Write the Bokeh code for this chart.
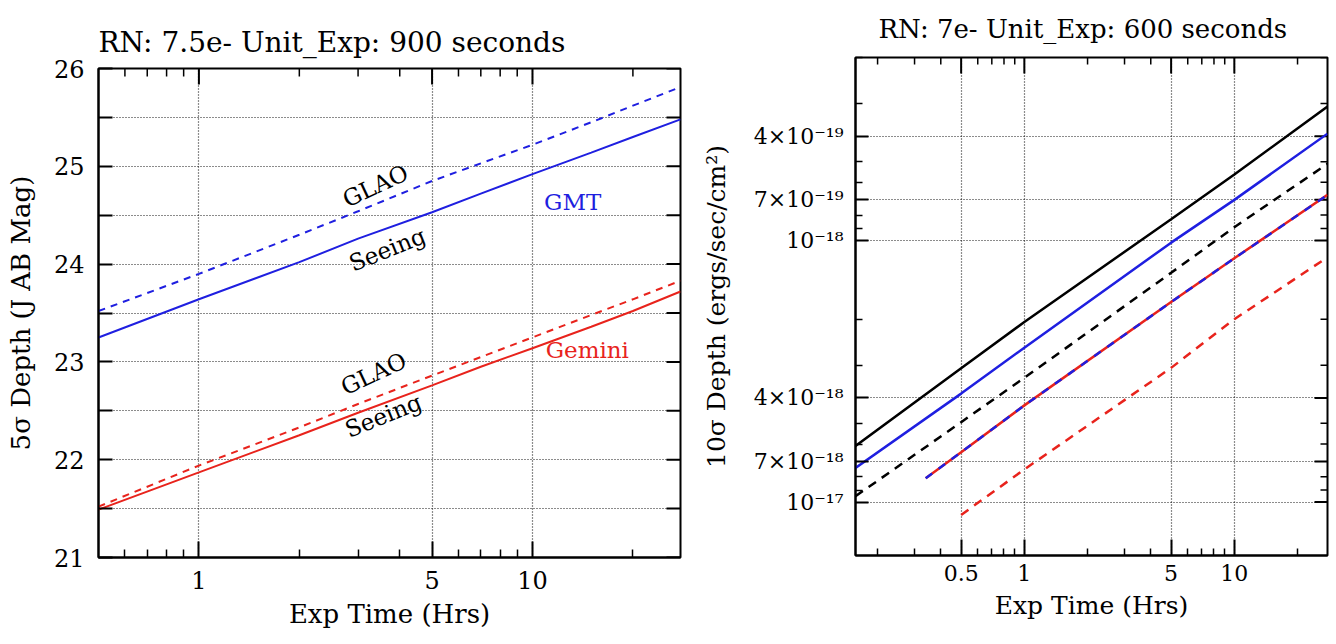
import math
from bokeh.plotting import figure
from bokeh.models import Range1d, FixedTicker
from bokeh.layouts import row
from bokeh.embed import file_html
from bokeh.resources import INLINE
from bokeh.core.properties import value

FONT = "DejaVu Serif"
BLUE = "#1f1fe0"
RED = "#e8231c"
BLACK = "#000000"

# ---------------- Left panel data (5 sigma depth, J AB mag) ----------------
left_time = [0.5, 1, 2, 3, 5, 7, 10, 15, 20, 27.78]
gmt_seeing = [23.25, 23.64, 24.02, 24.26, 24.53, 24.72, 24.92, 25.14, 25.30, 25.48]
gmt_glao = [23.52, 23.90, 24.30, 24.54, 24.85, 25.03, 25.22, 25.45, 25.62, 25.81]
gem_seeing = [21.49, 21.87, 22.25, 22.48, 22.76, 22.95, 23.14, 23.36, 23.52, 23.72]
gem_glao = [21.52, 21.94, 22.33, 22.57, 22.86, 23.05, 23.25, 23.48, 23.64, 23.83]

left_x_ticks = [1, 5, 10]
left_x_tick_labels = ["1", "5", "10"]
left_x_minor = [0.6, 0.7, 0.8, 0.9, 2, 3, 4, 6, 7, 8, 9, 20]
left_y_ticks = [21, 21.5, 22, 22.5, 23, 23.5, 24, 24.5, 25, 25.5, 26]
left_y_tick_labels = ["21", "", "22", "", "23", "", "24", "", "25", "", "26"]

left_labels = ["GLAO", "Seeing", "GMT", "GLAO", "Seeing", "Gemini"]

# ---------------- Right panel data (10 sigma depth, ergs/sec/cm^2) ----------------
time_full = [0.157, 0.5, 1, 5, 10, 27.78]
black_solid = [6.1e-18, 3.08e-18, 2.05e-18, 8.3e-19, 5.6e-19, 3.08e-19]
blue_solid = [7.4e-18, 3.85e-18, 2.57e-18, 1.02e-18, 7.0e-19, 3.91e-19]
black_dashed = [9.5e-18, 4.95e-18, 3.35e-18, 1.33e-18, 8.9e-19, 5.1e-19]
time_mid = [0.339, 0.5, 1, 5, 10, 27.78]
redblue_line = [8.1e-18, 6.45e-18, 4.27e-18, 1.72e-18, 1.17e-18, 6.7e-19]
time_late = [0.5, 1, 5, 10, 27.78]
red_dashed = [1.12e-17, 7.5e-18, 3.07e-18, 2.0e-18, 1.16e-18]

right_x_ticks = [0.5, 1, 5, 10]
right_x_tick_labels = ["0.5", "1", "5", "10"]
right_x_minor = [0.2, 0.3, 0.4, 0.6, 0.7, 0.8, 0.9, 2, 3, 4, 6, 7, 8, 9, 20]
right_y_ticks = [4e-19, 7e-19, 1e-18, 4e-18, 7e-18, 1e-17]
right_y_tick_labels = ["4×10⁻¹⁹", "7×10⁻¹⁹", "10⁻¹⁸", "4×10⁻¹⁸", "7×10⁻¹⁸", "10⁻¹⁷"]
right_y_minor = [2e-19, 3e-19, 5e-19, 6e-19, 8e-19, 9e-19, 2e-18, 3e-18, 5e-18, 6e-18, 8e-18, 9e-18]


def style_axis(ax, fsize, maj_in, min_in):
    ax.major_tick_in = maj_in
    ax.major_tick_out = 0
    ax.minor_tick_in = min_in
    ax.minor_tick_out = 0
    ax.axis_line_color = BLACK
    ax.axis_line_width = 2
    ax.major_tick_line_color = BLACK
    ax.major_tick_line_width = 2
    ax.minor_tick_line_color = BLACK
    ax.minor_tick_line_width = 1.5
    ax.major_label_text_font = FONT
    ax.major_label_text_font_size = f"{fsize}px"
    ax.major_label_text_color = BLACK
    ax.axis_label_text_font = FONT
    ax.axis_label_text_font_style = "normal"
    ax.axis_label_text_color = BLACK


def style_grid(p):
    for g in (p.xgrid, p.ygrid):
        g.grid_line_color = BLACK
        g.grid_line_dash = "1 2"
        g.grid_line_width = 1.2
        g.grid_line_alpha = 0.9


def mirror_ticks(p, xs_major, xs_minor, ys_major, ys_minor, x_edge, y_edge,
                 xmaj, xmin, ymaj, ymin):
    # ticks on the top and right frame edges; half of each dash is clipped by the frame
    if xs_major:
        p.scatter(xs_major, [y_edge] * len(xs_major), marker="dash", angle=math.pi / 2,
                  size=2 * xmaj, line_color=BLACK, line_width=2)
    if xs_minor:
        p.scatter(xs_minor, [y_edge] * len(xs_minor), marker="dash", angle=math.pi / 2,
                  size=2 * xmin, line_color=BLACK, line_width=1.5)
    if ys_major:
        p.scatter([x_edge] * len(ys_major), ys_major, marker="dash",
                  size=2 * ymaj, line_color=BLACK, line_width=2)
    if ys_minor:
        p.scatter([x_edge] * len(ys_minor), ys_minor, marker="dash",
                  size=2 * ymin, line_color=BLACK, line_width=1.5)


# ================= Left figure =================
lx0, lx1, ly0, ly1 = 0.5, 27.78, 21, 26
p1 = figure(width=690, height=640, x_axis_type="log",
            x_range=Range1d(lx0, lx1), y_range=Range1d(ly0, ly1),
            output_backend="svg", toolbar_location=None,
            min_border_left=98, min_border_right=10, min_border_top=68, min_border_bottom=83,
            background_fill_color="white", border_fill_color="white")
p1.outline_line_color = BLACK
p1.outline_line_width = 2

lx_ticker = FixedTicker(ticks=left_x_ticks, minor_ticks=left_x_minor)
ly_ticker = FixedTicker(ticks=left_y_ticks, minor_ticks=[])
p1.xaxis.ticker = lx_ticker
p1.yaxis.ticker = ly_ticker
p1.xgrid.ticker = lx_ticker
p1.ygrid.ticker = ly_ticker
p1.xaxis.major_label_overrides = dict(zip(left_x_ticks, left_x_tick_labels))
p1.yaxis.major_label_overrides = dict(zip(left_y_ticks, left_y_tick_labels))
style_axis(p1.xaxis[0], 24, 16, 8)
style_axis(p1.yaxis[0], 24, 14, 0)
p1.xaxis.axis_label = "Exp Time (Hrs)"
p1.yaxis.axis_label = "5σ Depth (J AB Mag)"
p1.xaxis.axis_label_text_font_size = "26px"
p1.yaxis.axis_label_text_font_size = "26px"
p1.xaxis.major_label_standoff = 13
p1.xaxis.axis_label_standoff = 7
p1.yaxis.major_label_standoff = 14
p1.yaxis.axis_label_standoff = 15
style_grid(p1)

mirror_ticks(p1, left_x_ticks, left_x_minor, left_y_ticks, [], lx1, ly1, 16, 8, 14, 0)

p1.line(left_time, gmt_glao, line_color=BLUE, line_width=2, line_dash="7 6")
p1.line(left_time, gmt_seeing, line_color=BLUE, line_width=2)
p1.line(left_time, gem_glao, line_color=RED, line_width=2, line_dash="7 6")
p1.line(left_time, gem_seeing, line_color=RED, line_width=2)

lab_x = [3.38, 3.67, 13.2, 3.34, 3.57, 14.6]
lab_y = [24.80, 24.15, 24.64, 22.88, 22.45, 23.12]
lab_ang = [25, 22, 0, 25, 22, 0]
lab_col = [BLACK, BLACK, BLUE, BLACK, BLACK, RED]
p1.text(x=lab_x, y=lab_y, text=left_labels,
        angle=[math.radians(a) for a in lab_ang],
        text_color=lab_col, text_font=value(FONT), text_font_size="23px",
        text_align="center", text_baseline="middle")

p1.title.text = "RN: 7.5e-  Unit_Exp: 900 seconds"
p1.title.text_font = FONT
p1.title.text_font_style = "normal"
p1.title.text_font_size = "28px"
p1.title.text_color = BLACK
p1.title.align = "left"
p1.title.offset = 0
p1.title.standoff = 19

# ================= Right figure =================
rx0, rx1, ry_bottom, ry_top = 0.157, 27.78, 1.6e-17, 2.0e-19
p2 = figure(width=644, height=640, x_axis_type="log", y_axis_type="log",
            x_range=Range1d(rx0, rx1), y_range=Range1d(ry_bottom, ry_top),
            output_backend="svg", toolbar_location=None,
            min_border_left=165, min_border_right=7, min_border_top=57, min_border_bottom=85,
            background_fill_color="white", border_fill_color="white")
p2.outline_line_color = BLACK
p2.outline_line_width = 2

rx_ticker = FixedTicker(ticks=right_x_ticks, minor_ticks=right_x_minor)
ry_ticker = FixedTicker(ticks=right_y_ticks, minor_ticks=right_y_minor)
p2.xaxis.ticker = rx_ticker
p2.yaxis.ticker = ry_ticker
p2.xgrid.ticker = rx_ticker
p2.ygrid.ticker = ry_ticker
p2.xaxis.major_label_overrides = dict(zip(right_x_ticks, right_x_tick_labels))
p2.yaxis.major_label_overrides = dict(zip(right_y_ticks, right_y_tick_labels))
style_axis(p2.xaxis[0], 22, 16, 7)
style_axis(p2.yaxis[0], 22, 13, 7)
p2.xaxis.axis_label = "Exp Time (Hrs)"
p2.yaxis.axis_label = "10σ Depth (ergs/sec/cm²)"
p2.xaxis.axis_label_text_font_size = "25px"
p2.yaxis.axis_label_text_font_size = "25px"
p2.xaxis.major_label_standoff = 9
p2.xaxis.axis_label_standoff = 7
p2.yaxis.major_label_standoff = 12
p2.yaxis.axis_label_standoff = 20
style_grid(p2)

mirror_ticks(p2, right_x_ticks, right_x_minor, right_y_ticks, right_y_minor,
             rx1, ry_top, 16, 7, 13, 7)

p2.line(time_full, black_solid, line_color=BLACK, line_width=2.5)
p2.line(time_full, blue_solid, line_color=BLUE, line_width=2.5)
p2.line(time_full, black_dashed, line_color=BLACK, line_width=2.5, line_dash="9 7")
p2.line(time_mid, redblue_line, line_color=RED, line_width=2.5)
p2.line(time_mid, redblue_line, line_color=BLUE, line_width=2.5, line_dash="8 8")
p2.line(time_late, red_dashed, line_color=RED, line_width=2.5, line_dash="9 7")

p2.title.text = "RN: 7e-  Unit_Exp: 600 seconds"
p2.title.text_font = FONT
p2.title.text_font_style = "normal"
p2.title.text_font_size = "26px"
p2.title.text_color = BLACK
p2.title.align = "left"
p2.title.offset = 23
p2.title.vertical_align = "top"
p2.title.standoff = 24

# each panel keeps its own frame position (no cross-plot frame alignment)
for p in (p1, p2):
    try:
        p.frame_align = False
    except Exception:
        pass

layout = row(p1, p2)
open("out.html", "w").write(file_html(layout, INLINE))
